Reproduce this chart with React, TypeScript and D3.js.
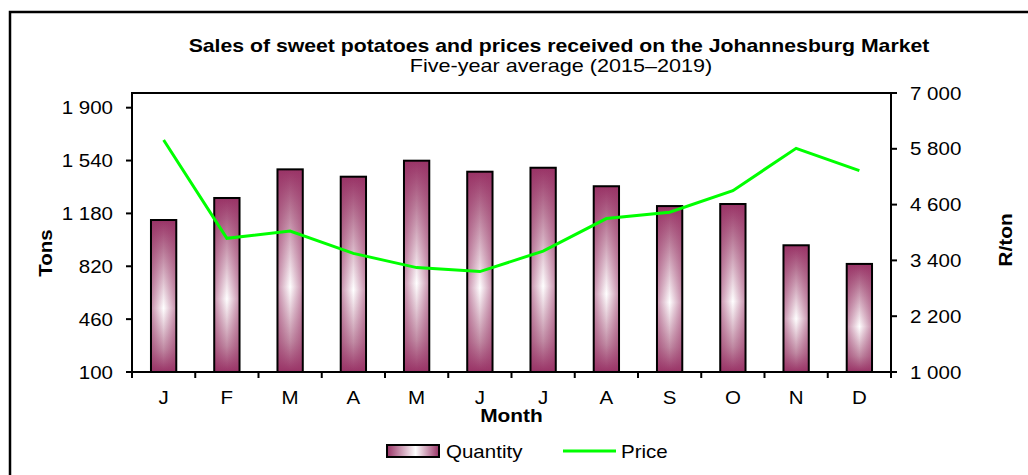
import React from "react";
import * as d3 from "d3";

const months = ["J", "F", "M", "A", "M", "J", "J", "A", "S", "O", "N", "D"];
const quantity = [1135, 1285, 1480, 1430, 1539, 1464, 1491, 1365, 1230, 1244, 963, 836];
const price = [5990, 3875, 4030, 3550, 3245, 3160, 3600, 4300, 4435, 4900, 5810, 5330];
const leftTicks = [100, 460, 820, 1180, 1540, 1900];
const rightTicks = [1000, 2200, 3400, 4600, 5800, 7000];

const W = 1028;
const H = 475;
const plot = { left: 132, right: 891, top: 93, bottom: 372 };
const FONT = "'Liberation Sans', Arial, sans-serif";
const FS = 18;
const SX = 1.14;

type TP = {
  x: number;
  y: number;
  anchor?: "start" | "middle" | "end";
  bold?: boolean;
  sx?: number;
  rot?: number;
  children: React.ReactNode;
};
function T({ x, y, anchor = "start", bold = false, sx = SX, rot = 0, children }: TP) {
  return (
    <text
      transform={`translate(${x},${y}) rotate(${rot}) scale(${sx},1)`}
      textAnchor={anchor}
      fontFamily={FONT}
      fontWeight={bold ? "bold" : "normal"}
      fontSize={FS}
    >
      {children}
    </text>
  );
}

const fmt = (v: number) => {
  const s = String(v);
  return s.length > 3 ? s.slice(0, s.length - 3) + " " + s.slice(-3) : s;
};

export default function App() {
  const idx = months.map((_, i) => String(i));
  const x = d3.scaleBand<string>().domain(idx).range([plot.left, plot.right]).paddingInner(0).paddingOuter(0);
  const yL = d3.scaleLinear().domain([100, 2000]).range([plot.bottom, plot.top]);
  const yR = d3.scaleLinear().domain([1000, 7000]).range([plot.bottom, plot.top]);
  const bw = x.bandwidth();
  const barW = bw * 0.4;
  const line = d3
    .line<number>()
    .x((_, i) => (x(String(i)) as number) + bw / 2)
    .y((d) => yR(d));

  return (
    <svg width={W} height={H} style={{ position: "absolute", left: 0, top: 0, background: "#fff" }}>
      <defs>
        <linearGradient id="gv" x1="0" y1="0" x2="0" y2="1">
          <stop offset="0" stopColor="#993366" />
          <stop offset="0.2" stopColor="#b97a98" />
          <stop offset="0.58" stopColor="#ffffff" />
          <stop offset="0.85" stopColor="#c08aa3" />
          <stop offset="1" stopColor="#993366" />
        </linearGradient>
        <linearGradient id="gh" x1="0" y1="0" x2="1" y2="0">
          <stop offset="0" stopColor="#993366" stopOpacity="0.55" />
          <stop offset="0.5" stopColor="#993366" stopOpacity="0" />
          <stop offset="1" stopColor="#993366" stopOpacity="0.55" />
        </linearGradient>
        <linearGradient id="lg" x1="0" y1="0" x2="1" y2="0">
          <stop offset="0" stopColor="#993366" />
          <stop offset="0.55" stopColor="#ffffff" />
          <stop offset="1" stopColor="#993366" />
        </linearGradient>
      </defs>
      {/* outer frame */}
      <rect x={10} y={12} width={W + 20} height={H + 20} fill="#fff" stroke="#000" strokeWidth={2.5} />

      {/* titles */}
      <T x={559} y={52} anchor="middle" bold sx={1.18}>
        Sales of sweet potatoes and prices received on the Johannesburg Market
      </T>
      <T x={561} y={72} anchor="middle" sx={1.2}>
        Five-year average (2015–2019)
      </T>

      {/* bars */}
      {quantity.map((q, i) => {
        const bx = (x(String(i)) as number) + (bw - barW) / 2;
        const by = yL(q);
        const bh = plot.bottom - by;
        return (
          <g key={i}>
            <rect x={bx} y={by} width={barW} height={bh} fill="url(#gv)" />
            <rect x={bx} y={by} width={barW} height={bh} fill="url(#gh)" stroke="#000" strokeWidth={2} />
          </g>
        );
      })}

      {/* price line */}
      <path d={line(price) || ""} fill="none" stroke="#00ff00" strokeWidth={3} />

      {/* plot frame */}
      <rect
        x={plot.left}
        y={plot.top}
        width={plot.right - plot.left}
        height={plot.bottom - plot.top}
        fill="none"
        stroke="#000"
        strokeWidth={2}
      />

      {/* left axis */}
      {leftTicks.map((t) => (
        <g key={"l" + t}>
          <line x1={plot.left - 6} x2={plot.left} y1={yL(t)} y2={yL(t)} stroke="#000" strokeWidth={2} />
          <T x={113} y={yL(t) + 6.5} anchor="end">
            {fmt(t)}
          </T>
        </g>
      ))}
      {/* right axis */}
      {rightTicks.map((t) => (
        <g key={"r" + t}>
          <line x1={plot.right} x2={plot.right + 6} y1={yR(t)} y2={yR(t)} stroke="#000" strokeWidth={2} />
          <T x={910} y={yR(t) + 6.5}>
            {fmt(t)}
          </T>
        </g>
      ))}
      {/* x axis */}
      {months.map((m, i) => {
        const x0 = x(String(i)) as number;
        return (
          <g key={"x" + i}>
            <line x1={x0} x2={x0} y1={plot.bottom} y2={plot.bottom + 6} stroke="#000" strokeWidth={2} />
            <T x={x0 + bw / 2} y={404} anchor="middle">
              {m}
            </T>
          </g>
        );
      })}
      <line x1={plot.right} x2={plot.right} y1={plot.bottom} y2={plot.bottom + 6} stroke="#000" strokeWidth={2} />

      {/* axis titles */}
      <T x={(plot.left + plot.right) / 2} y={422} anchor="middle" bold sx={1.16}>
        Month
      </T>
      <T x={52} y={253} anchor="middle" bold rot={-90} sx={1.14}>
        Tons
      </T>
      <T x={1012} y={240} anchor="middle" bold rot={-90} sx={1.16}>
        R/ton
      </T>

      {/* legend */}
      <rect x={387} y={445} width={52} height={12} fill="url(#lg)" stroke="#000" strokeWidth={2} />
      <T x={446} y={457.5}>Quantity</T>
      <line x1={563} x2={616} y1={451} y2={451} stroke="#00ff00" strokeWidth={3} />
      <T x={621} y={457.5}>Price</T>
    </svg>
  );
}
